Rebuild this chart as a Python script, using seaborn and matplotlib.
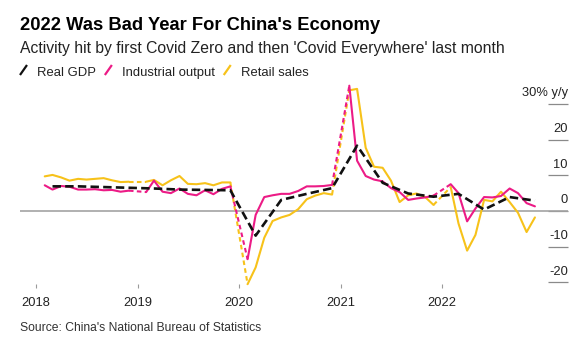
import matplotlib
matplotlib.use("Agg")
import matplotlib.pyplot as plt
import matplotlib.dates as mdates
import matplotlib.transforms as mtransforms
from matplotlib.lines import Line2D
import pandas as pd
import seaborn as sns

# ---- data -----------------------------------------------------------------
years = [2018, 2019, 2020, 2021, 2022]

# Monthly y/y growth, Feb..Dec of each year (January is reported together
# with February, so each year starts at the Jan-Feb reading)
industrial_output = [
    7.2, 6.0, 7.0, 6.8, 6.0, 6.0, 6.1, 5.8, 5.9, 5.4, 5.7,      # 2018
    5.3, 8.5, 5.4, 5.0, 6.3, 4.8, 4.4, 5.8, 4.7, 6.2, 6.9,      # 2019
    -13.5, -1.1, 3.9, 4.4, 4.8, 4.8, 5.6, 6.9, 6.9, 7.0, 7.3,   # 2020
    35.1, 14.1, 9.8, 8.8, 8.3, 6.4, 5.3, 3.1, 3.5, 3.8, 4.3,    # 2021
    7.5, 5.0, -2.9, 0.7, 3.9, 3.8, 4.2, 6.3, 5.0, 2.2, 1.3,     # 2022
]
retail_sales = [
    9.7, 10.1, 9.4, 8.5, 9.0, 8.8, 9.0, 9.2, 8.6, 8.1, 8.2,
    8.2, 8.7, 7.2, 8.6, 9.8, 7.6, 7.5, 7.8, 7.2, 8.0, 8.0,
    -20.5, -15.8, -7.5, -2.8, -1.8, -1.1, 0.5, 3.3, 4.3, 5.0, 4.6,
    33.8, 34.2, 17.7, 12.4, 12.1, 8.5, 2.5, 4.4, 4.9, 3.9, 1.7,
    6.7, -3.5, -11.1, -6.7, 3.1, 2.7, 5.4, 2.5, -0.5, -5.9, -1.8,
]
# Quarterly real GDP y/y growth, Q1..Q4
real_gdp = [
    6.9, 6.9, 6.7, 6.5,
    6.3, 6.0, 5.9, 5.8,
    -6.9, 3.1, 4.8, 6.4,
    18.3, 7.9, 4.9, 4.0,
    4.8, 0.4, 3.9, 2.9,
]

series_names = ["Real GDP", "Industrial output", "Retail sales"]
series_colors = ["#111111", "#ec1b86", "#f7c21a"]
y_ticks = [-20, -10, 0, 10, 20, 30]
y_tick_labels = ["-20", "-10", "0", "10", "20", "30% y/y"]

title = "2022 Was Bad Year For China's Economy"
subtitle = "Activity hit by first Covid Zero and then 'Covid Everywhere' last month"
source = "Source: China's National Bureau of Statistics"

# ---- tidy frame -------------------------------------------------------------
month_dates = [pd.Timestamp(y, m, 1) for y in years for m in range(2, 13)]
quarter_dates = [pd.Timestamp(y, m, 1) for y in years for m in (3, 6, 9, 12)]

rows = []
for name, values in (("Industrial output", industrial_output),
                     ("Retail sales", retail_sales)):
    for i, (d, v) in enumerate(zip(month_dates, values)):
        rows.append(dict(series=name, date=d, value=v, kind="solid",
                         segment=f"{name}-{d.year}"))
        # dashed bridge across the missing January reading
        if d.month == 12 and i + 1 < len(values):
            rows.append(dict(series=name, date=d, value=v, kind="bridge",
                             segment=f"{name}-bridge-{d.year}"))
            rows.append(dict(series=name, date=month_dates[i + 1],
                             value=values[i + 1], kind="bridge",
                             segment=f"{name}-bridge-{d.year}"))
for d, v in zip(quarter_dates, real_gdp):
    rows.append(dict(series="Real GDP", date=d, value=v, kind="gdp",
                     segment="Real GDP"))
df = pd.DataFrame(rows)

palette = dict(zip(series_names, series_colors))
dash_styles = {"solid": "", "bridge": (2.2, 1.6), "gdp": (3.2, 1.6)}
widths = {"Real GDP": 1.9, "Industrial output": 1.5, "Retail sales": 1.5}

# ---- figure -----------------------------------------------------------------
sns.set_theme(style="white")
plt.rcParams["font.family"] = ["Liberation Sans", "DejaVu Sans"]

W, H = 587, 348
fig = plt.figure(figsize=(W / 100, H / 100), dpi=100)
ax = fig.add_axes([20 / W, (H - 288) / H, 548 / W, 210 / H])

ax.axhline(0, color="#a3a3a3", lw=1.2, zorder=1)

for name in ["Retail sales", "Industrial output", "Real GDP"]:
    sub = df[df["series"] == name]
    sns.lineplot(data=sub, x="date", y="value", hue="series", style="kind",
                 units="segment", estimator=None, sort=False,
                 palette=palette, dashes=dash_styles,
                 size="series", sizes=widths,
                 legend=False, ax=ax, zorder=3)

ax.set_xlim(pd.Timestamp(2017, 11, 4), pd.Timestamp(2023, 3, 30))
ax.set_ylim(-21.57, 37.25)
ax.set_xlabel("")
ax.set_ylabel("")
for s in ax.spines.values():
    s.set_visible(False)

ax.set_xticks([pd.Timestamp(y, 1, 1) for y in years])
ax.xaxis.set_major_formatter(mdates.DateFormatter("%Y"))
ax.tick_params(axis="x", bottom=True, direction="in", length=3.2, width=0.8,
               color="#9a9a9a", labelsize=9.3, labelcolor="#222222", pad=6.5)

ax.set_yticks(y_ticks)
ax.tick_params(axis="y", left=False, right=True, direction="in", length=14.4,
               width=0.9, color="#8a8a8a", labelleft=False, labelright=False)
label_tf = mtransforms.offset_copy(
    mtransforms.blended_transform_factory(ax.transAxes, ax.transData),
    fig=fig, y=5.6, units="points")
for v, lab in zip(y_ticks, y_tick_labels):
    ax.text(1.0, v, lab, transform=label_tf, ha="right", va="baseline",
            fontsize=9.3, color="#222222")

# ---- header, legend, footer ---------------------------------------------
fig.text(20 / W, 1 - 30 / H, title, fontsize=13.2, fontweight="bold",
         color="#000000", ha="left", va="baseline")
fig.text(20 / W, 1 - 53 / H, subtitle, fontsize=11.3, color="#222222",
         ha="left", va="baseline")

renderer = fig.canvas.get_renderer()
x_px = 20
legend_base = 76
for name, col in zip(series_names, series_colors):
    fig.add_artist(Line2D([(x_px) / W, (x_px + 7) / W],
                          [1 - (legend_base - 1) / H, 1 - (legend_base - 11) / H],
                          color=col, lw=1.6, solid_capstyle="butt"))
    t = fig.text((x_px + 17) / W, 1 - legend_base / H, name, fontsize=9.4,
                 color="#222222", ha="left", va="baseline")
    bb = t.get_window_extent(renderer)
    x_px = bb.x1 + 9

fig.text(20 / W, 1 - 331 / H, source, fontsize=8.7, color="#333333",
         ha="left", va="baseline")

fig.savefig("out.png", dpi=100)
